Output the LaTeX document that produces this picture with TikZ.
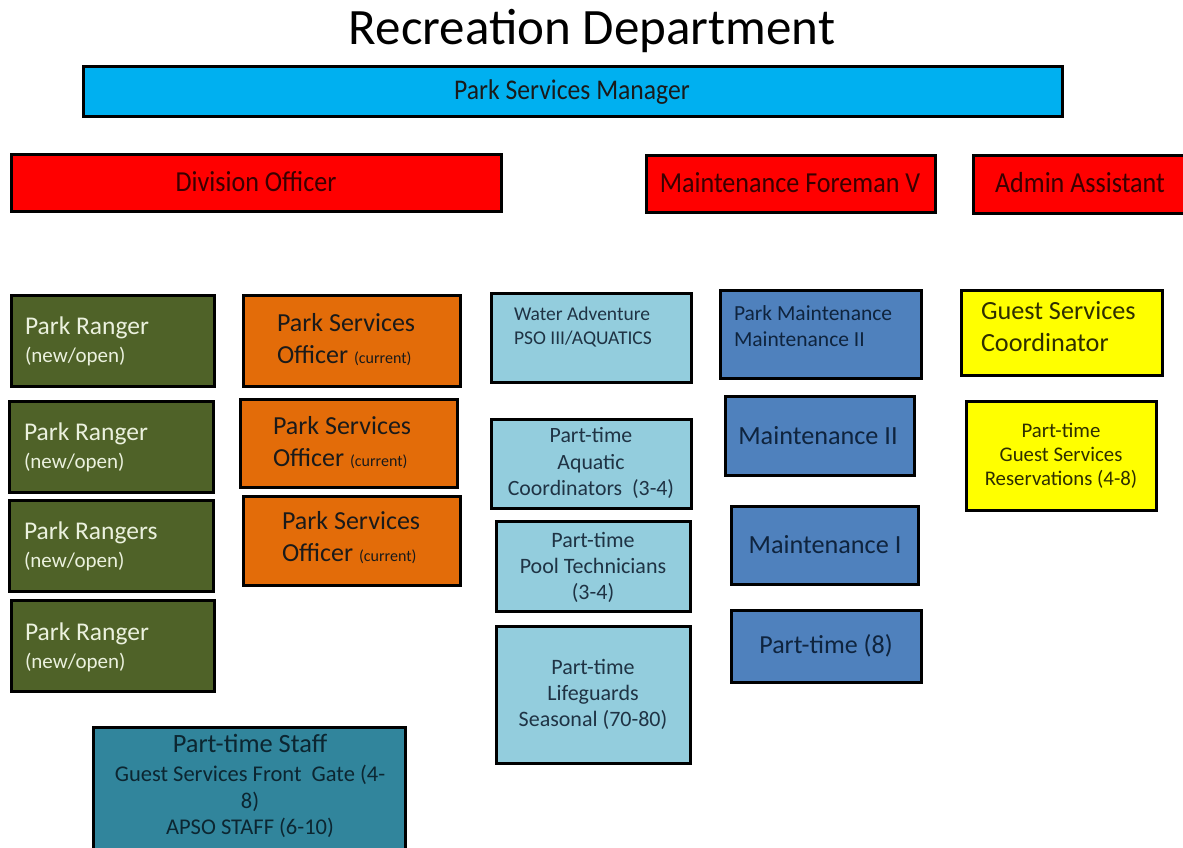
\documentclass[tikz,border=0pt]{standalone}
\usepackage{fontspec}
\setmainfont{Carlito}
\newfontfamily\condfont[FakeStretch=0.9]{Carlito}
\definecolor{cyanbox}{HTML}{00B0F0}
\definecolor{redbox}{HTML}{FF0000}
\definecolor{olivebox}{HTML}{4F6228}
\definecolor{orangebox}{HTML}{E36C09}
\definecolor{aquabox}{HTML}{93CDDD}
\definecolor{maintbox}{HTML}{4F81BD}
\definecolor{yellowbox}{HTML}{FFFF00}
\definecolor{tealbox}{HTML}{31859C}
\definecolor{redtxt}{HTML}{3A0000}
\definecolor{olivetxt}{HTML}{EBF1DE}
\definecolor{darktxt}{HTML}{1A1A1A}
\definecolor{aquatxt}{HTML}{1F3344}
\definecolor{mainttxt}{HTML}{0F243E}
\definecolor{yellowtxt}{HTML}{2E2E00}
\definecolor{tealtxt}{HTML}{0C2631}
\newcommand\fs[2]{\fontsize{#1}{#2}\selectfont}
\newcommand\bx[6]{\node[box,#6,minimum width={#4-#2},minimum height={#5-#3}] (#1) at ({(#2+#4)/2},{(#3+#5)/2}) {};}
\tikzset{
  box/.style={draw=black, line width=3pt, rectangle, inner sep=0pt, outer sep=0pt},
  txt/.style={inner sep=0pt, outer sep=0pt},
  olive/.style={fill=olivebox},
  orange/.style={fill=orangebox},
  aqua/.style={fill=aquabox},
  maint/.style={fill=maintbox},
  yellow/.style={fill=yellowbox},
  prtxt/.style={txt, anchor=west, align=left, text=olivetxt, font=\fs{25.5}{28}},
  psotxt/.style={txt, anchor=west, align=left, text=darktxt, font=\fs{26}{32}},
  toptxt/.style={txt, font=\condfont\fs{29}{32}, text=redtxt},
}
\begin{document}
\begin{tikzpicture}[x=1pt,y=-1pt]
\path[use as bounding box, fill=white] (0,0) rectangle (1183,848);
% title
\node[txt, font=\fs{51}{60}] (title) at (592,31) {Recreation Department};
% top level
\bx{psm}{83}{67}{1062}{117}{fill=cyanbox}
\node[txt, font=\condfont\fs{28.5}{32}, text=darktxt] (psmt) at (572,92) {Park Services Manager};
\bx{div}{11}{154}{501}{211}{fill=redbox}
\node[toptxt] (divt) at (256,182) {Division Officer};
\bx{mfv}{646}{155}{935}{212}{fill=redbox}
\node[toptxt] (mfvt) at (790,183) {Maintenance Foreman V};
\bx{adm}{973}{155}{1192}{213}{fill=redbox}
\node[toptxt] (admt) at (1080,183) {Admin Assistant};
% park rangers
\bx{pr1}{11}{295}{214}{386}{olive}
\node[prtxt] (pr1t) at (25,341) {Park Ranger\\{\fs{21}{28}(new/open)}};
\bx{pr2}{9}{401}{213}{492}{olive}
\node[prtxt] (pr2t) at (24,447) {Park Ranger\\{\fs{21}{28}(new/open)}};
\bx{pr3}{9}{500}{213}{591}{olive}
\node[prtxt] (pr3t) at (24,546) {Park Rangers\\{\fs{21}{28}(new/open)}};
\bx{pr4}{11}{600}{214}{691}{olive}
\node[prtxt] (pr4t) at (25,647) {Park Ranger\\{\fs{21}{28}(new/open)}};
% park services officers
\bx{pso1}{243}{295}{460}{386}{orange}
\node[psotxt] (pso1t) at (277,340) {Park Services\\Officer {\fs{16}{32}(current)}};
\bx{pso2}{240}{399}{457}{487}{orange}
\node[psotxt] (pso2t) at (273,443) {Park Services\\Officer {\fs{16}{32}(current)}};
\bx{pso3}{243}{496}{460}{585}{orange}
\node[psotxt] (pso3t) at (282,538) {Park Services\\Officer {\fs{16}{32}(current)}};
% aquatics
\bx{wa}{491}{293}{691}{382}{aqua}
\node[txt, anchor=west, align=left, text=aquatxt, font=\fs{19.5}{24}] (wat) at (514,327) {Water Adventure\\PSO III/AQUATICS};
\bx{aqc}{491}{419}{691}{508}{aqua}
\node[txt, align=center, text=aquatxt, font=\fs{21.8}{26.5}] (aqct) at (591,463) {Part-time\\Aquatic\\Coordinators\ \ (3-4)};
\bx{pool}{496}{521}{690}{611}{aqua}
\node[txt, align=center, text=aquatxt, font=\fs{22}{26}] (poolt) at (593,567) {Part-time\\Pool Technicians\\(3-4)};
\bx{life}{496}{626}{690}{763}{aqua}
\node[txt, align=center, text=aquatxt, font=\fs{22}{26}] (lifet) at (593,694) {Part-time\\Lifeguards\\Seasonal (70-80)};
% maintenance
\bx{pm}{720}{290}{921}{378}{maint}
\node[txt, anchor=west, align=left, text=mainttxt, font=\fs{21.5}{26}] (pmt) at (734,326) {Park Maintenance\\Maintenance II};
\bx{m2}{725}{396}{914}{475}{maint}
\node[txt, text=mainttxt, font=\fs{26.2}{30}] (m2t) at (818,436) {Maintenance II};
\bx{m1}{731}{506}{918}{584}{maint}
\node[txt, text=mainttxt, font=\fs{26.2}{30}] (m1t) at (825,545) {Maintenance I};
\bx{pt8}{731}{610}{921}{682}{maint}
\node[txt, text=mainttxt, font=\fs{26}{30}] (pt8t) at (826,646) {Part-time (8)};
% guest services
\bx{gsc}{961}{290}{1162}{375}{yellow}
\node[txt, anchor=west, align=left, text=yellowtxt, font=\fs{26.2}{32}] (gsct) at (981,327) {Guest Services\\Coordinator};
\bx{gsr}{966}{401}{1156}{510}{yellow}
\node[txt, align=center, text=yellowtxt, font=\fs{20.8}{24}] (gsrt) at (1061,456) {Part-time\\Guest Services\\Reservations (4-8)};
% part-time staff
\bx{pts}{93}{727}{405}{856}{fill=tealbox}
\node[txt, align=center, text=tealtxt, font=\fs{22.5}{26.5}] (ptst) at (250,786) {{\fs{26.4}{30}Part-time Staff}\\[3pt]Guest Services Front\ \ Gate (4-\\8)\\APSO STAFF (6-10)};
\end{tikzpicture}
\end{document}
